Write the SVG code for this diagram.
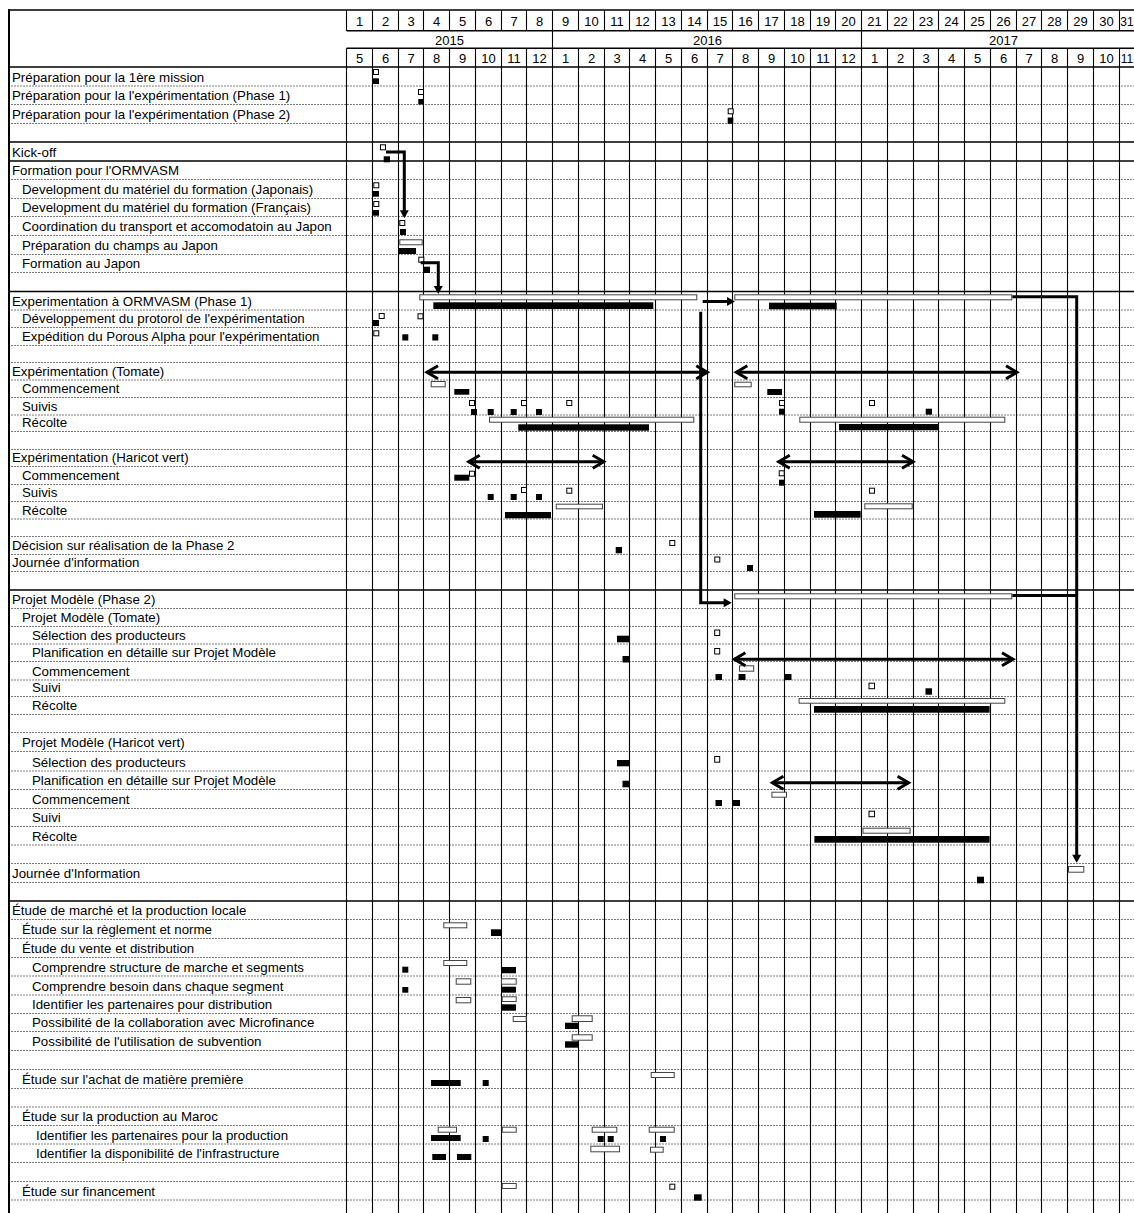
<svg xmlns="http://www.w3.org/2000/svg" width="1134" height="1213" viewBox="0 0 1134 1213">
<style>
text{font-family:"Liberation Sans",Arial,sans-serif;fill:#000}
.lbl{font-size:13.3px}
.hd{font-size:13px;text-anchor:middle}
.os{fill:#fff;stroke:#000;stroke-width:1}
.ob{fill:#fff;stroke:#444;stroke-width:1}
.f{fill:#000}
.vg{fill:none;stroke:#000;stroke-width:1.1}
.hg{fill:none;stroke:#7a7a7a;stroke-width:1;stroke-dasharray:2 1}
.hb{fill:none;stroke:#000;stroke-width:1.5}
.conn path{fill:none;stroke:#000;stroke-width:3}
</style>
<defs>
<marker id="ah" markerUnits="userSpaceOnUse" markerWidth="12" markerHeight="12" refX="5.5" refY="4.5" orient="auto" overflow="visible"><path d="M0 0L8 4.5L0 9Z" fill="#000" stroke="none"/></marker>
<marker id="chev" markerUnits="userSpaceOnUse" markerWidth="14" markerHeight="14" refX="11" refY="6.5" orient="auto-start-reverse" overflow="visible"><path d="M0 0L11 6.5L0 13" fill="none" stroke="#000" stroke-width="3"/></marker>
</defs>
<rect width="1134" height="1213" fill="#fff"/>
<g id="grid">
<path class="hg" d="M8 86H1134M8 104.5H1134M8 123.5H1134M8 179.5H1134M8 198.5H1134M8 216.5H1134M8 235.5H1134M8 254.5H1134M8 272.5H1134M8 310H1134M8 327.5H1134M8 345.5H1134M8 362.5H1134M8 380H1134M8 397.5H1134M8 415H1134M8 431.5H1134M8 449.5H1134M8 466.5H1134M8 484.5H1134M8 501.5H1134M8 519H1134M8 536.5H1134M8 554.5H1134M8 571.5H1134M8 608.5H1134M8 626.5H1134M8 644H1134M8 661.5H1134M8 680H1134M8 696.5H1134M8 714.5H1134M8 732.5H1134M8 751.5H1134M8 771H1134M8 789.5H1134M8 808.5H1134M8 826.5H1134M8 845H1134M8 863.5H1134M8 882.5H1134M8 919.5H1134M8 938.5H1134M8 957.5H1134M8 976H1134M8 995H1134M8 1013.5H1134M8 1031.5H1134M8 1050.5H1134M8 1069.5H1134M8 1088.5H1134M8 1107H1134M8 1125.5H1134M8 1144H1134M8 1162.5H1134M8 1181.5H1134M8 1200H1134"/>
<path class="vg" d="M346.5 10V30.7M346.5 48.3V1213M372.5 10V30.7M372.5 48.3V1213M398.5 10V30.7M398.5 48.3V1213M423.5 10V30.7M423.5 48.3V1213M449.5 10V30.7M449.5 48.3V1213M475.5 10V30.7M475.5 48.3V1213M501.5 10V30.7M501.5 48.3V1213M526.5 10V30.7M526.5 48.3V1213M552.5 10V1213M578.5 10V30.7M578.5 48.3V1213M604.5 10V30.7M604.5 48.3V1213M629.5 10V30.7M629.5 48.3V1213M655.5 10V30.7M655.5 48.3V1213M681.5 10V30.7M681.5 48.3V1213M707.5 10V30.7M707.5 48.3V1213M732.5 10V30.7M732.5 48.3V1213M758.5 10V30.7M758.5 48.3V1213M784.5 10V30.7M784.5 48.3V1213M810.5 10V30.7M810.5 48.3V1213M835.5 10V30.7M835.5 48.3V1213M861.5 10V1213M887.5 10V30.7M887.5 48.3V1213M913.5 10V30.7M913.5 48.3V1213M938.5 10V30.7M938.5 48.3V1213M964.5 10V30.7M964.5 48.3V1213M990.5 10V30.7M990.5 48.3V1213M1016.5 10V30.7M1016.5 48.3V1213M1041.5 10V30.7M1041.5 48.3V1213M1067.5 10V30.7M1067.5 48.3V1213M1093.5 10V30.7M1093.5 48.3V1213M1119.5 10V30.7M1119.5 48.3V1213"/>
<path class="hb" d="M8 10H1134M346.5 30.7H1134M346.5 48.3H1134M8 67H1134M8 142H1134M8 161H1134M8 291.5H1134M8 590H1134M8 901H1134"/>
<path d="M9 9.5V1213" fill="none" stroke="#000" stroke-width="2"/>
</g>
<g id="header">
<g class="hd">
<text x="359.5" y="25.5">1</text><text x="385.5" y="25.5">2</text><text x="411" y="25.5">3</text><text x="436.5" y="25.5">4</text><text x="462.5" y="25.5">5</text><text x="488.5" y="25.5">6</text><text x="514" y="25.5">7</text><text x="539.5" y="25.5">8</text><text x="565.5" y="25.5">9</text><text x="591.5" y="25.5">10</text><text x="617" y="25.5">11</text><text x="642.5" y="25.5">12</text><text x="668.5" y="25.5">13</text><text x="694.5" y="25.5">14</text><text x="720" y="25.5">15</text><text x="745.5" y="25.5">16</text><text x="771.5" y="25.5">17</text><text x="797.5" y="25.5">18</text><text x="823" y="25.5">19</text><text x="848.5" y="25.5">20</text><text x="874.5" y="25.5">21</text><text x="900.5" y="25.5">22</text><text x="926" y="25.5">23</text><text x="951.5" y="25.5">24</text><text x="977.5" y="25.5">25</text><text x="1003.5" y="25.5">26</text><text x="1029" y="25.5">27</text><text x="1054.5" y="25.5">28</text><text x="1080.5" y="25.5">29</text><text x="1106.5" y="25.5">30</text><text x="1127" y="25.5" style="font-size:12px">31</text>
<text x="449.5" y="44.5">2015</text><text x="707.5" y="44.5">2016</text><text x="1003.5" y="44.5">2017</text>
<text x="359.5" y="63">5</text><text x="385.5" y="63">6</text><text x="411" y="63">7</text><text x="436.5" y="63">8</text><text x="462.5" y="63">9</text><text x="488.5" y="63">10</text><text x="514" y="63">11</text><text x="539.5" y="63">12</text><text x="565.5" y="63">1</text><text x="591.5" y="63">2</text><text x="617" y="63">3</text><text x="642.5" y="63">4</text><text x="668.5" y="63">5</text><text x="694.5" y="63">6</text><text x="720" y="63">7</text><text x="745.5" y="63">8</text><text x="771.5" y="63">9</text><text x="797.5" y="63">10</text><text x="823" y="63">11</text><text x="848.5" y="63">12</text><text x="874.5" y="63">1</text><text x="900.5" y="63">2</text><text x="926" y="63">3</text><text x="951.5" y="63">4</text><text x="977.5" y="63">5</text><text x="1003.5" y="63">6</text><text x="1029" y="63">7</text><text x="1054.5" y="63">8</text><text x="1080.5" y="63">9</text><text x="1106.5" y="63">10</text><text x="1127" y="63" style="font-size:12px">11</text>
</g>
</g>
<g id="r1"><text class="lbl" x="12" y="81.7">Préparation pour la 1ère mission</text><rect class="os" x="373.5" y="69.5" width="5" height="5"/><rect class="f" x="372.7" y="78.3" width="6.3" height="5.7"/></g>
<g id="r2"><text class="lbl" x="12" y="100.2">Préparation pour la l'expérimentation (Phase 1)</text><rect class="os" x="418.5" y="89.5" width="5" height="5"/><rect class="f" x="418.3" y="99" width="5.5" height="5.5"/></g>
<g id="r3"><text class="lbl" x="12" y="119.2">Préparation pour la l'expérimentation (Phase 2)</text><rect class="os" x="728.2" y="108.8" width="5" height="5"/><rect class="f" x="727.7" y="117.5" width="5.6" height="6.3"/></g>
<g id="r5"><text class="lbl" x="12" y="156.7">Kick-off</text><rect class="os" x="380.5" y="144.8" width="5" height="5"/><rect class="f" x="383.7" y="156.3" width="6.3" height="6"/></g>
<g id="r6"><text class="lbl" x="12" y="175.2">Formation pour l'ORMVASM</text></g>
<g id="r7"><text class="lbl" x="22" y="194.2">Development du matériel du formation (Japonais)</text><rect class="os" x="373.8" y="182.8" width="5" height="5"/><rect class="f" x="372.7" y="191" width="6.3" height="5.7"/></g>
<g id="r8"><text class="lbl" x="22" y="212.2">Development du matériel du formation (Français)</text><rect class="os" x="373.8" y="201.5" width="5" height="5"/><rect class="f" x="372.7" y="210" width="6.3" height="5.7"/></g>
<g id="r9"><text class="lbl" x="22" y="231.2">Coordination du transport et accomodatoin au Japon</text><rect class="os" x="399.8" y="220.5" width="5" height="5"/><rect class="f" x="400" y="229" width="6" height="6"/></g>
<g id="r10"><text class="lbl" x="22" y="250.2">Préparation du champs au Japon</text><rect class="ob" x="399.8" y="239.8" width="22.4" height="5"/><rect class="f" x="398.3" y="248" width="17.7" height="6"/></g>
<g id="r11"><text class="lbl" x="22" y="268.2">Formation au Japon</text><rect class="os" x="418.8" y="257.2" width="5" height="5"/><rect class="f" x="423.3" y="266.7" width="6.7" height="6.3"/></g>
<g id="r13"><text class="lbl" x="12" y="305.7">Experimentation à ORMVASM (Phase 1)</text><rect class="ob" x="419.8" y="294.8" width="277" height="5"/><rect class="f" x="433.3" y="302.3" width="220" height="6.7"/><rect class="ob" x="734.8" y="294.8" width="277" height="5"/><rect class="f" x="769" y="302.7" width="67.7" height="6.6"/></g>
<g id="r14"><text class="lbl" x="22" y="323.2">Développement du protorol de l'expérimentation</text><rect class="os" x="379.2" y="313.5" width="5" height="5"/><rect class="f" x="372.5" y="320" width="6.5" height="6"/><rect class="os" x="418" y="313.8" width="5" height="5"/></g>
<g id="r15"><text class="lbl" x="22" y="341.2">Expédition du Porous Alpha pour l'expérimentation</text><rect class="os" x="373.8" y="330.8" width="5" height="5"/><rect class="f" x="402.3" y="334.3" width="6" height="6.2"/><rect class="f" x="432.3" y="334.3" width="6" height="6.2"/></g>
<g id="r17"><text class="lbl" x="12" y="375.7">Expérimentation (Tomate)</text></g>
<g id="r18"><text class="lbl" x="22" y="393.2">Commencement</text><rect class="ob" x="431.2" y="381.5" width="14" height="5.3"/><rect class="f" x="454.3" y="389" width="15" height="5.7"/><rect class="ob" x="734.8" y="382.2" width="16.4" height="4.6"/><rect class="f" x="767.3" y="389" width="14.7" height="6"/></g>
<g id="r19"><text class="lbl" x="22" y="410.7">Suivis</text><rect class="os" x="469.5" y="400.5" width="5" height="5"/><rect class="os" x="521.5" y="400.5" width="5" height="5"/><rect class="os" x="566.8" y="400.5" width="5" height="5"/><rect class="os" x="779.5" y="400.5" width="5" height="5"/><rect class="os" x="869.5" y="400.5" width="5" height="5"/><rect class="f" x="471" y="409" width="6" height="6"/><rect class="f" x="487.7" y="409" width="6" height="6"/><rect class="f" x="510.7" y="409" width="6" height="6"/><rect class="f" x="536" y="409" width="6" height="6"/><rect class="f" x="779" y="408.7" width="5.7" height="6"/><rect class="f" x="925.7" y="408.7" width="6.3" height="6"/></g>
<g id="r20"><text class="lbl" x="22" y="427.2">Récolte</text><rect class="ob" x="489.5" y="417.2" width="204.3" height="5"/><rect class="f" x="518.3" y="424.3" width="130.7" height="6.4"/><rect class="ob" x="799.8" y="417.2" width="205" height="5"/><rect class="f" x="839" y="424" width="99" height="6.3"/></g>
<g id="r22"><text class="lbl" x="12" y="462.2">Expérimentation (Haricot vert)</text></g>
<g id="r23"><text class="lbl" x="22" y="480.2">Commencement</text><rect class="f" x="454.3" y="474.7" width="15" height="6"/><rect class="os" x="469.5" y="471.2" width="5" height="5"/><rect class="os" x="779.2" y="470.8" width="5" height="5"/><rect class="f" x="779" y="479.7" width="5.7" height="6"/></g>
<g id="r24"><text class="lbl" x="22" y="497.2">Suivis</text><rect class="os" x="521.5" y="487.5" width="5" height="5"/><rect class="os" x="566.8" y="488.2" width="5" height="5"/><rect class="os" x="869.5" y="488.2" width="5" height="5"/><rect class="f" x="487.7" y="494" width="6" height="6"/><rect class="f" x="510.7" y="494" width="6" height="6"/><rect class="f" x="536" y="494" width="6" height="6"/></g>
<g id="r25"><text class="lbl" x="22" y="514.7">Récolte</text><rect class="ob" x="556.2" y="504.2" width="46.3" height="4.6"/><rect class="f" x="505" y="512" width="46" height="6.3"/><rect class="ob" x="864.8" y="503.8" width="47.4" height="5"/><rect class="f" x="814" y="511" width="46.7" height="6.7"/></g>
<g id="r27"><text class="lbl" x="12" y="550.2">Décision sur réalisation de la Phase 2</text><rect class="os" x="669.8" y="540.5" width="5" height="5"/><rect class="f" x="615.7" y="547" width="6.3" height="6.3"/></g>
<g id="r28"><text class="lbl" x="12" y="567.2">Journée d'information</text><rect class="os" x="714.8" y="557" width="5" height="5"/><rect class="f" x="747" y="565" width="6" height="6"/></g>
<g id="r30"><text class="lbl" x="12" y="604.2">Projet Modèle (Phase 2)</text><rect class="ob" x="734.8" y="593.8" width="277" height="5"/></g>
<g id="r31"><text class="lbl" x="22" y="622.2">Projet Modèle (Tomate)</text></g>
<g id="r32"><text class="lbl" x="32" y="639.7">Sélection des producteurs</text><rect class="f" x="617" y="635.7" width="13" height="6.6"/><rect class="os" x="714.7" y="630" width="5" height="5.5"/></g>
<g id="r33"><text class="lbl" x="32" y="657.2">Planification en détaille sur Projet Modèle</text><rect class="f" x="622.5" y="656" width="7" height="6.5"/><rect class="os" x="714.7" y="648.5" width="5" height="5.5"/></g>
<g id="r34"><text class="lbl" x="32" y="675.7">Commencement</text><rect class="ob" x="739.5" y="665.8" width="14.2" height="5.4"/><rect class="f" x="715.5" y="674" width="6.5" height="6"/><rect class="f" x="738.5" y="674" width="7" height="6"/><rect class="f" x="784.5" y="674" width="7" height="6"/></g>
<g id="r35"><text class="lbl" x="32" y="692.2">Suivi</text><rect class="os" x="869" y="683.2" width="5.5" height="5.5"/><rect class="f" x="925.5" y="688.3" width="6.5" height="6.4"/></g>
<g id="r36"><text class="lbl" x="32" y="710.2">Récolte</text><rect class="ob" x="799.1" y="698.5" width="205.7" height="4.7"/><rect class="f" x="814" y="706" width="175.6" height="6.7"/></g>
<g id="r38"><text class="lbl" x="22" y="747.2">Projet Modèle (Haricot vert)</text></g>
<g id="r39"><text class="lbl" x="32" y="766.7">Sélection des producteurs</text><rect class="f" x="617" y="760" width="13" height="6.3"/><rect class="os" x="714.7" y="756.5" width="5" height="5.7"/></g>
<g id="r40"><text class="lbl" x="32" y="785.2">Planification en détaille sur Projet Modèle</text><rect class="f" x="622.5" y="780.7" width="7" height="6.6"/></g>
<g id="r41"><text class="lbl" x="32" y="804.2">Commencement</text><rect class="ob" x="771.9" y="792.2" width="14.6" height="5"/><rect class="f" x="715.5" y="800" width="6.5" height="6"/><rect class="f" x="733" y="800" width="7" height="6"/></g>
<g id="r42"><text class="lbl" x="32" y="822.2">Suivi</text><rect class="os" x="869" y="811.2" width="5.5" height="5.5"/></g>
<g id="r43"><text class="lbl" x="32" y="840.7">Récolte</text><rect class="ob" x="863" y="828.2" width="47.1" height="5"/><rect class="f" x="814.4" y="836" width="175.2" height="6.7"/></g>
<g id="r45"><text class="lbl" x="12" y="878.2">Journée d'Information</text><rect class="ob" x="1068.5" y="866.5" width="15.3" height="5.7"/><rect class="f" x="977" y="876.7" width="7" height="6.6"/></g>
<g id="r47"><text class="lbl" x="12" y="915.2">Étude de marché et la production locale</text></g>
<g id="r48"><text class="lbl" x="22" y="934.2">Étude sur la règlement et norme</text><rect class="ob" x="443.8" y="922.8" width="23" height="5"/><rect class="f" x="491" y="929.3" width="10" height="6.7"/></g>
<g id="r49"><text class="lbl" x="22" y="953.2">Étude du vente et distribution</text></g>
<g id="r50"><text class="lbl" x="32" y="971.7">Comprendre structure de marche et segments</text><rect class="f" x="402.3" y="966.7" width="6" height="6"/><rect class="ob" x="443.8" y="960.5" width="23" height="5"/><rect class="f" x="501" y="967" width="15" height="6.3"/></g>
<g id="r51"><text class="lbl" x="32" y="990.7">Comprendre besoin dans chaque segment</text><rect class="f" x="402.3" y="987" width="6" height="5.7"/><rect class="ob" x="456.2" y="978.8" width="14.6" height="5.4"/><rect class="ob" x="501.5" y="978.8" width="14.7" height="5.4"/><rect class="f" x="501" y="986.7" width="15" height="6"/></g>
<g id="r52"><text class="lbl" x="32" y="1009.2">Identifier les partenaires pour distribution</text><rect class="ob" x="456.2" y="997.5" width="14.6" height="5.3"/><rect class="ob" x="502.2" y="996.8" width="14" height="4.7"/><rect class="f" x="501.7" y="1004.3" width="14.3" height="6.4"/></g>
<g id="r53"><text class="lbl" x="32" y="1027.2">Possibilité de la collaboration avec Microfinance</text><rect class="ob" x="513.2" y="1016.5" width="13" height="5"/><rect class="ob" x="572.2" y="1015.8" width="20" height="5.7"/><rect class="f" x="565" y="1022.7" width="13.7" height="6.3"/></g>
<g id="r54"><text class="lbl" x="32" y="1046.2">Possibilité de l'utilisation de subvention</text><rect class="ob" x="572.2" y="1034.8" width="20" height="5.4"/><rect class="f" x="565" y="1041.3" width="13.7" height="6.4"/></g>
<g id="r56"><text class="lbl" x="22" y="1084.2">Étude sur l'achat de matière première</text><rect class="f" x="431" y="1080" width="29.7" height="6"/><rect class="f" x="482.7" y="1080" width="6" height="6"/><rect class="ob" x="651.2" y="1072.5" width="23" height="5"/></g>
<g id="r58"><text class="lbl" x="22" y="1121.2">Étude sur la production au Maroc</text></g>
<g id="r59"><text class="lbl" x="36" y="1139.7">Identifier les partenaires pour la production</text><rect class="ob" x="438.2" y="1127.2" width="18.3" height="5"/><rect class="ob" x="502.2" y="1127.2" width="14" height="5"/><rect class="ob" x="592.2" y="1127.2" width="24.6" height="5"/><rect class="ob" x="649.2" y="1127.2" width="25" height="5"/><rect class="f" x="431" y="1135" width="29.7" height="6"/><rect class="f" x="482.7" y="1136" width="6" height="6"/><rect class="f" x="597.7" y="1136" width="6" height="6"/><rect class="f" x="607.7" y="1136" width="6" height="6"/><rect class="f" x="660" y="1136" width="6" height="6"/></g>
<g id="r60"><text class="lbl" x="36" y="1158.2">Identifier la disponibilité de l'infrastructure</text><rect class="f" x="432.3" y="1154" width="13.7" height="6"/><rect class="f" x="457" y="1154" width="14.3" height="6"/><rect class="ob" x="590.8" y="1146.2" width="28.7" height="5.6"/><rect class="ob" x="650.5" y="1147.2" width="12.7" height="5"/></g>
<g id="r62"><text class="lbl" x="22" y="1195.7">Étude sur financement</text><rect class="ob" x="502.2" y="1183.5" width="14" height="5"/><rect class="os" x="669.8" y="1184.2" width="5" height="5"/><rect class="f" x="694" y="1194.3" width="7.7" height="6.4"/></g>
<g id="connectors" class="conn">
<path d="M386 152H404.3V215.8" marker-end="url(#ah)"/>
<path d="M420.7 262.7H438.3V291.5" marker-end="url(#ah)"/>
<path d="M702.7 301.5H732.5" marker-end="url(#ah)"/>
<path d="M700.7 311.7V602.7H729.2" marker-end="url(#ah)"/>
<path d="M1012.3 296.7H1076.7V860.2" marker-end="url(#ah)"/>
<path d="M1012.3 595.5H1076.7"/>
<path d="M427 372.3H707.3" marker-start="url(#chev)" marker-end="url(#chev)"/>
<path d="M736.3 372.3H1017" marker-start="url(#chev)" marker-end="url(#chev)"/>
<path d="M468.7 461.8H603.7" marker-start="url(#chev)" marker-end="url(#chev)"/>
<path d="M778.7 461.7H913" marker-start="url(#chev)" marker-end="url(#chev)"/>
<path d="M734.4 659.3H1013" marker-start="url(#chev)" marker-end="url(#chev)"/>
<path d="M772.4 782.7H908.6" marker-start="url(#chev)" marker-end="url(#chev)"/>
</g>
</svg>
